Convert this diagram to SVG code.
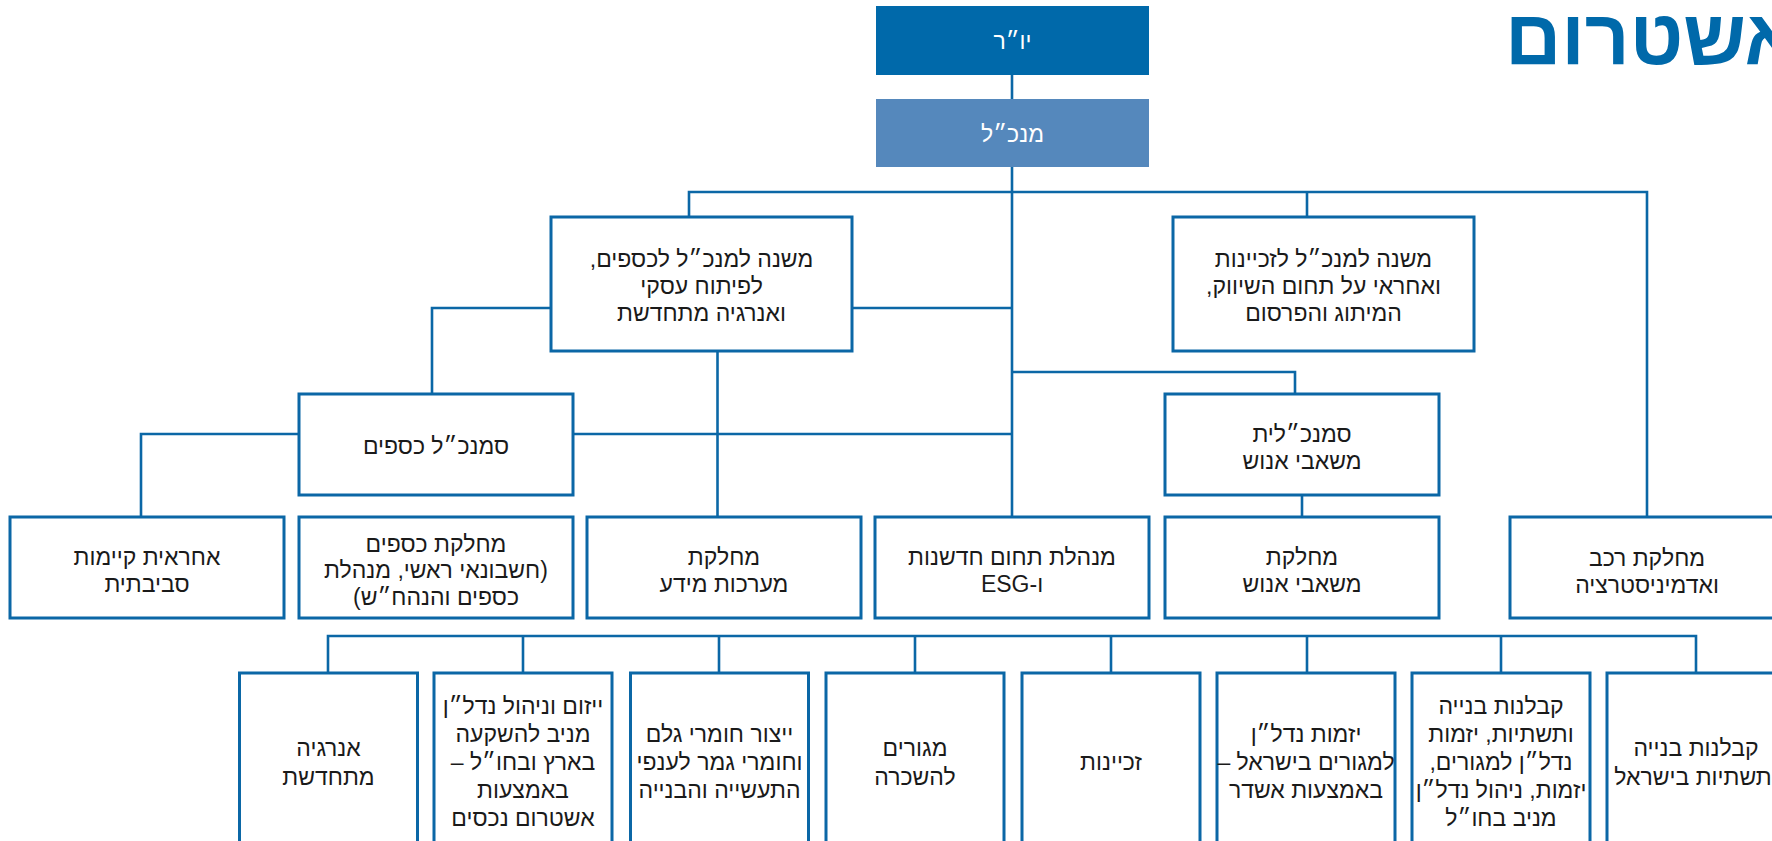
<svg xmlns="http://www.w3.org/2000/svg" width="1772" height="841" viewBox="0 0 1772 841">
<style>
.bx{fill:#ffffff;stroke:#0b67a6;stroke-width:3}
.ln{fill:none;stroke:#0b67a6;stroke-width:2.6}
.t{font-family:"Liberation Sans","DejaVu Sans",sans-serif;font-size:23px;fill:#1a1a1a;text-anchor:middle;direction:rtl}
.tw{fill:#ffffff}
.title{font-family:"Liberation Sans","DejaVu Sans",sans-serif;font-size:78px;font-weight:bold;fill:#0069aa;direction:rtl;text-anchor:end}
</style>
<rect width="1772" height="841" fill="#ffffff"/>
<text class="title" x="1505" y="64">אשטרום</text>

<g id="connectors">
<path class="ln" d="M1012 75V99"/>
<path class="ln" d="M1012 167V517"/>
<path class="ln" d="M689 217V192H1647V517"/>
<path class="ln" d="M1307 192V217"/>
<path class="ln" d="M852 308H1012"/>
<path class="ln" d="M551 308H432V394"/>
<path class="ln" d="M717.5 351V517"/>
<path class="ln" d="M1012 372H1295V394"/>
<path class="ln" d="M573 434H1012"/>
<path class="ln" d="M299 434H141V517"/>
<path class="ln" d="M1302 495V517"/>
<path class="ln" d="M328 673V636H1696V673"/>
<path class="ln" d="M523 636V673M719 636V673M915 636V673M1111 636V673M1307 636V673M1501 636V673"/>
</g>

<g id="chairman">
<rect x="876" y="6" width="273" height="69" fill="#0069aa"/>
<text class="t tw" x="1012.5" y="49">יו״ר</text>
</g>
<g id="ceo">
<rect x="876" y="99" width="273" height="68" fill="#5588bc"/>
<text class="t tw" x="1012.5" y="141.5">מנכ״ל</text>
</g>

<g id="deputy-finance">
<rect class="bx" x="551" y="217" width="301" height="134"/>
<text class="t" x="701.5" y="267">משנה למנכ״ל לכספים,</text>
<text class="t" x="701.5" y="294">לפיתוח עסקי</text>
<text class="t" x="701.5" y="321">ואנרגיה מתחדשת</text>
</g>
<g id="deputy-franchise">
<rect class="bx" x="1173" y="217" width="301" height="134"/>
<text class="t" x="1323.5" y="267">משנה למנכ״ל לזכיינות</text>
<text class="t" x="1323.5" y="294">ואחראי על תחום השיווק,</text>
<text class="t" x="1323.5" y="321">המיתוג והפרסום</text>
</g>

<g id="vp-finance">
<rect class="bx" x="299" y="394" width="274" height="101"/>
<text class="t" x="436" y="453.5">סמנכ״ל כספים</text>
</g>
<g id="vp-hr">
<rect class="bx" x="1165" y="394" width="274" height="101"/>
<text class="t" x="1302" y="441.5">סמנכ״לית</text>
<text class="t" x="1302" y="469">משאבי אנוש</text>
</g>

<g id="sustainability">
<rect class="bx" x="10" y="517" width="274" height="101"/>
<text class="t" x="147" y="565">אחראית קיימות</text>
<text class="t" x="147" y="591.5">סביבתית</text>
</g>
<g id="finance-dept">
<rect class="bx" x="299" y="517" width="274" height="101"/>
<text class="t" x="436" y="551.5">מחלקת כספים</text>
<text class="t" x="436" y="578">(חשבונאי ראשי, מנהלת</text>
<text class="t" x="436" y="604.5">כספים והנהח״ש)</text>
</g>
<g id="it-dept">
<rect class="bx" x="587" y="517" width="274" height="101"/>
<text class="t" x="724" y="565">מחלקת</text>
<text class="t" x="724" y="591.5">מערכות מידע</text>
</g>
<g id="innovation">
<rect class="bx" x="875" y="517" width="274" height="101"/>
<text class="t" x="1012" y="565">מנהלת תחום חדשנות</text>
<text class="t" x="1012" y="591.5">ו-ESG</text>
</g>
<g id="hr-dept">
<rect class="bx" x="1165" y="517" width="274" height="101"/>
<text class="t" x="1302" y="565">מחלקת</text>
<text class="t" x="1302" y="591.5">משאבי אנוש</text>
</g>
<g id="vehicles-dept">
<rect class="bx" x="1510" y="517" width="274" height="101"/>
<text class="t" x="1647" y="566">מחלקת רכב</text>
<text class="t" x="1647" y="592.5">ואדמיניסטרציה</text>
</g>

<g id="renewable">
<rect class="bx" x="239.5" y="673" width="178" height="190"/>
<text class="t" x="328.5" y="756">אנרגיה</text>
<text class="t" x="328.5" y="784.5">מתחדשת</text>
</g>
<g id="income-property">
<rect class="bx" x="434" y="673" width="178" height="190"/>
<text class="t" x="523" y="714">ייזום וניהול נדל״ן</text>
<text class="t" x="523" y="742">מניב להשקעה</text>
<text class="t" x="523" y="770">בארץ ובחו״ל –</text>
<text class="t" x="523" y="798">באמצעות</text>
<text class="t" x="523" y="826">אשטרום נכסים</text>
</g>
<g id="materials">
<rect class="bx" x="630.5" y="673" width="178" height="190"/>
<text class="t" x="719.5" y="742">ייצור חומרי גלם</text>
<text class="t" x="719.5" y="770">וחומרי גמר לענפי</text>
<text class="t" x="719.5" y="798">התעשייה והבנייה</text>
</g>
<g id="rental">
<rect class="bx" x="826" y="673" width="178" height="190"/>
<text class="t" x="915" y="756">מגורים</text>
<text class="t" x="915" y="784.5">להשכרה</text>
</g>
<g id="concessions">
<rect class="bx" x="1022" y="673" width="178" height="190"/>
<text class="t" x="1111" y="770">זכיינות</text>
</g>
<g id="residential">
<rect class="bx" x="1217" y="673" width="178" height="190"/>
<text class="t" x="1306" y="742">יזמות נדל״ן</text>
<text class="t" x="1306" y="770">למגורים בישראל –</text>
<text class="t" x="1306" y="798">באמצעות אשדר</text>
</g>
<g id="construction-intl">
<rect class="bx" x="1412" y="673" width="178" height="190"/>
<text class="t" x="1501" y="714">קבלנות בנייה</text>
<text class="t" x="1501" y="742">ותשתיות, יזמות</text>
<text class="t" x="1501" y="770">נדל״ן למגורים,</text>
<text class="t" x="1501" y="798">יזמות, ניהול נדל״ן</text>
<text class="t" x="1501" y="826">מניב בחו״ל</text>
</g>
<g id="construction-il">
<rect class="bx" x="1607" y="673" width="178" height="190"/>
<text class="t" x="1696" y="756">קבלנות בנייה</text>
<text class="t" x="1696" y="784.5">ותשתיות בישראל</text>
</g>
</svg>
